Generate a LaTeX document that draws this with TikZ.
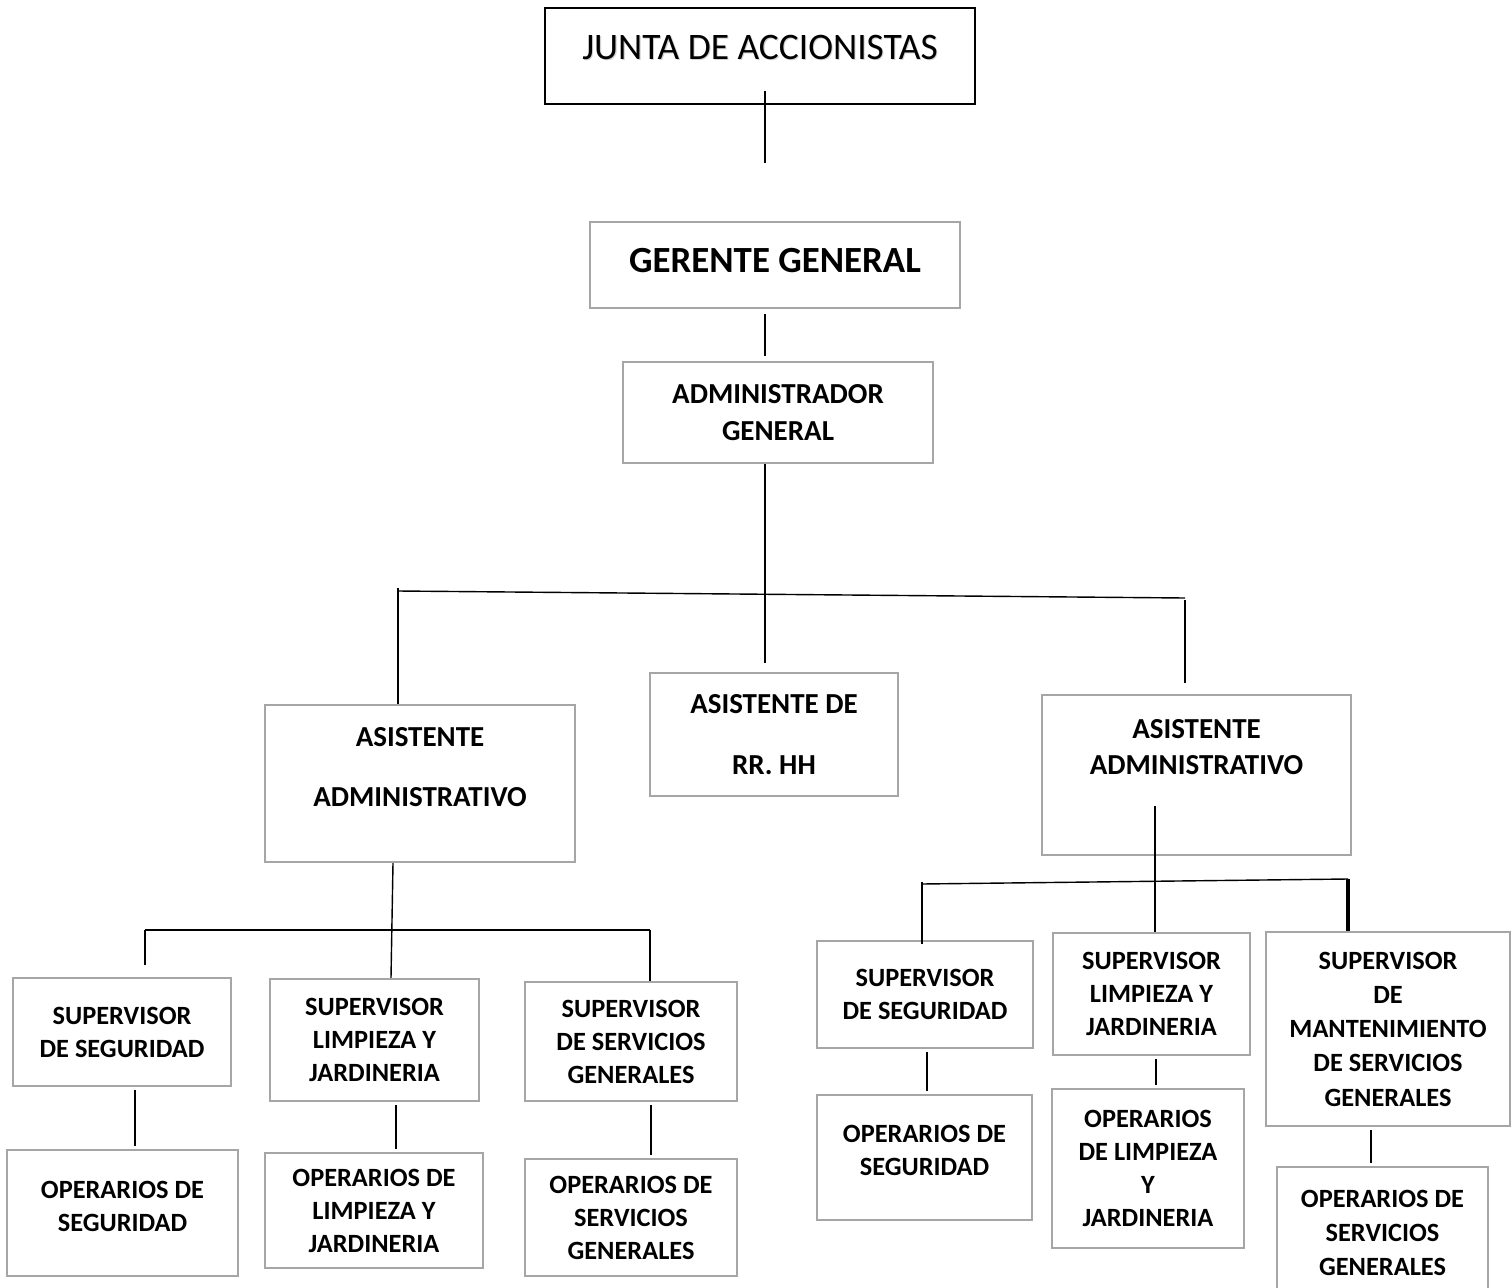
\documentclass[tikz,border=0pt]{standalone}
\usepackage{fontspec}
\setmainfont{Carlito}
\definecolor{boxgray}{RGB}{166,166,166}
\begin{document}
\begin{tikzpicture}[x=0.02cm, y=-0.02cm]
\tikzset{bx/.style 2 args={draw=boxgray, line width=1.4pt, minimum width=#1*0.02cm, minimum height=#2*0.02cm, inner sep=2pt, align=center, font=\fontsize{15}{18.8}\selectfont\bfseries},
mid/.style={font=\fontsize{16.5}{21}\selectfont\bfseries},
f/.style={draw=black, line width=0.8pt}};
\useasboundingbox (0,0) rectangle (1512,1288);

\node[bx={430}{96}, draw=black, font=\fontsize{21.3}{25}\selectfont, text depth=0.36cm] (junta) at (760,56) {\rlap{\color{gray!35}\hspace{0.6pt}\raisebox{-0.6pt}{JUNTA DE ACCIONISTAS}}JUNTA DE ACCIONISTAS};
\node[bx={370}{86}, font=\fontsize{21}{25}\selectfont\bfseries, text depth=0.2cm] (gerente) at (775,265) {GERENTE GENERAL};
\node[bx={310}{101}, mid] (admgen) at (778,412.5) {ADMINISTRADOR\\GENERAL};
\node[bx={310}{157}, mid, text depth=0.66cm] (asisL) at (420,783.5) {ASISTENTE\\[0.48cm]ADMINISTRATIVO};
\node[bx={248}{123}, mid] (rrhh) at (774,734.5) {ASISTENTE DE\\[0.48cm]RR. HH};
\node[bx={309}{160}, mid, text depth=1.12cm] (asisR) at (1196.5,775) {ASISTENTE\\ADMINISTRATIVO};

\node[bx={218}{108}] (supsegL) at (122,1032) {SUPERVISOR\\DE SEGURIDAD};
\node[bx={209}{122}] (suplimpL) at (374.5,1040) {SUPERVISOR\\LIMPIEZA Y\\JARDINERIA};
\node[bx={212}{119}] (supservL) at (631,1041.5) {SUPERVISOR\\DE SERVICIOS\\GENERALES};
\node[bx={231}{126}, text depth=0.28cm] (opsegL) at (122.5,1213) {OPERARIOS DE\\SEGURIDAD};
\node[bx={218}{115}] (oplimpL) at (374,1210.5) {OPERARIOS DE\\LIMPIEZA Y\\JARDINERIA};
\node[bx={212}{117}] (opservL) at (631,1217.5) {OPERARIOS DE\\SERVICIOS\\GENERALES};

\node[bx={216}{107}] (supsegR) at (925,994.5) {SUPERVISOR\\DE SEGURIDAD};
\node[bx={197}{122}] (suplimpR) at (1151.5,994) {SUPERVISOR\\LIMPIEZA Y\\JARDINERIA};
\node[bx={244}{194}, font=\fontsize{15}{19.5}\selectfont\bfseries] (supmant) at (1388,1029) {SUPERVISOR\\DE\\MANTENIMIENTO\\DE SERVICIOS\\GENERALES};
\node[bx={215}{125}, text depth=0.3cm] (opsegR) at (924.5,1157.5) {OPERARIOS DE\\SEGURIDAD};
\node[bx={192}{159}] (oplimpR) at (1148,1168.5) {OPERARIOS\\DE LIMPIEZA\\Y\\JARDINERIA};
\node[bx={211}{132}, font=\fontsize{15}{19.5}\selectfont\bfseries] (opservR) at (1382.5,1233) {OPERARIOS DE\\SERVICIOS\\GENERALES};

% top of the chart
\coordinate (j1) at (765,163);
\draw[f] ([yshift=0.28cm]junta.south -| j1) -- (j1);
\draw[f, shorten <=0.1cm, shorten >=0.1cm] (gerente.south -| 765,0) -- (admgen.north -| 765,0);
\draw[f, shorten >=0.18cm] (admgen.south -| 765,0) -- (rrhh.north -| 765,0);

\coordinate (bL) at (398,591);
\coordinate (bR) at (1185,598);
\draw[f] (bL) -- (bR);
\draw[f] ([yshift=0.06cm]bL) -- (bL |- asisL.north);
\draw[f] ([yshift=-0.04cm]bR) -- ([yshift=0.22cm]bR |- asisR.north);

% left group
\coordinate (gL) at (145,930);
\coordinate (gR) at (650,930);
\draw[f] (asisL.south -| 393,0) -- (suplimpL.north -| 391,0);
\draw[f] (gL) -- (gR);
\draw[f] (gL) -- ([yshift=0.24cm]gL |- supsegL.north);
\draw[f] (gR) -- (gR |- supservL.north);

% right group
\coordinate (hL) at (922,884);
\coordinate (hR) at (1348,879);
\draw[f] ([yshift=1cm]asisR.south -| 1155,0) -- (suplimpR.north -| 1155,0);
\draw[f] (hL) -- (hR);
\draw[f] ([yshift=0.04cm]hL) -- ([yshift=-0.08cm]hL |- supsegR.north);
\draw[f, line width=2.2pt] (hR) -- (hR |- supmant.north);

\foreach \a/\b/\x in {supsegL/opsegL/135, suplimpL/oplimpL/396, supservL/opservL/651, supsegR/opsegR/927, suplimpR/oplimpR/1156, supmant/opservR/1371} {
	\draw[f, shorten <=0.06cm, shorten >=0.06cm] (\a.south -| \x,0) -- (\b.north -| \x,0);
}

\end{tikzpicture}
\end{document}
